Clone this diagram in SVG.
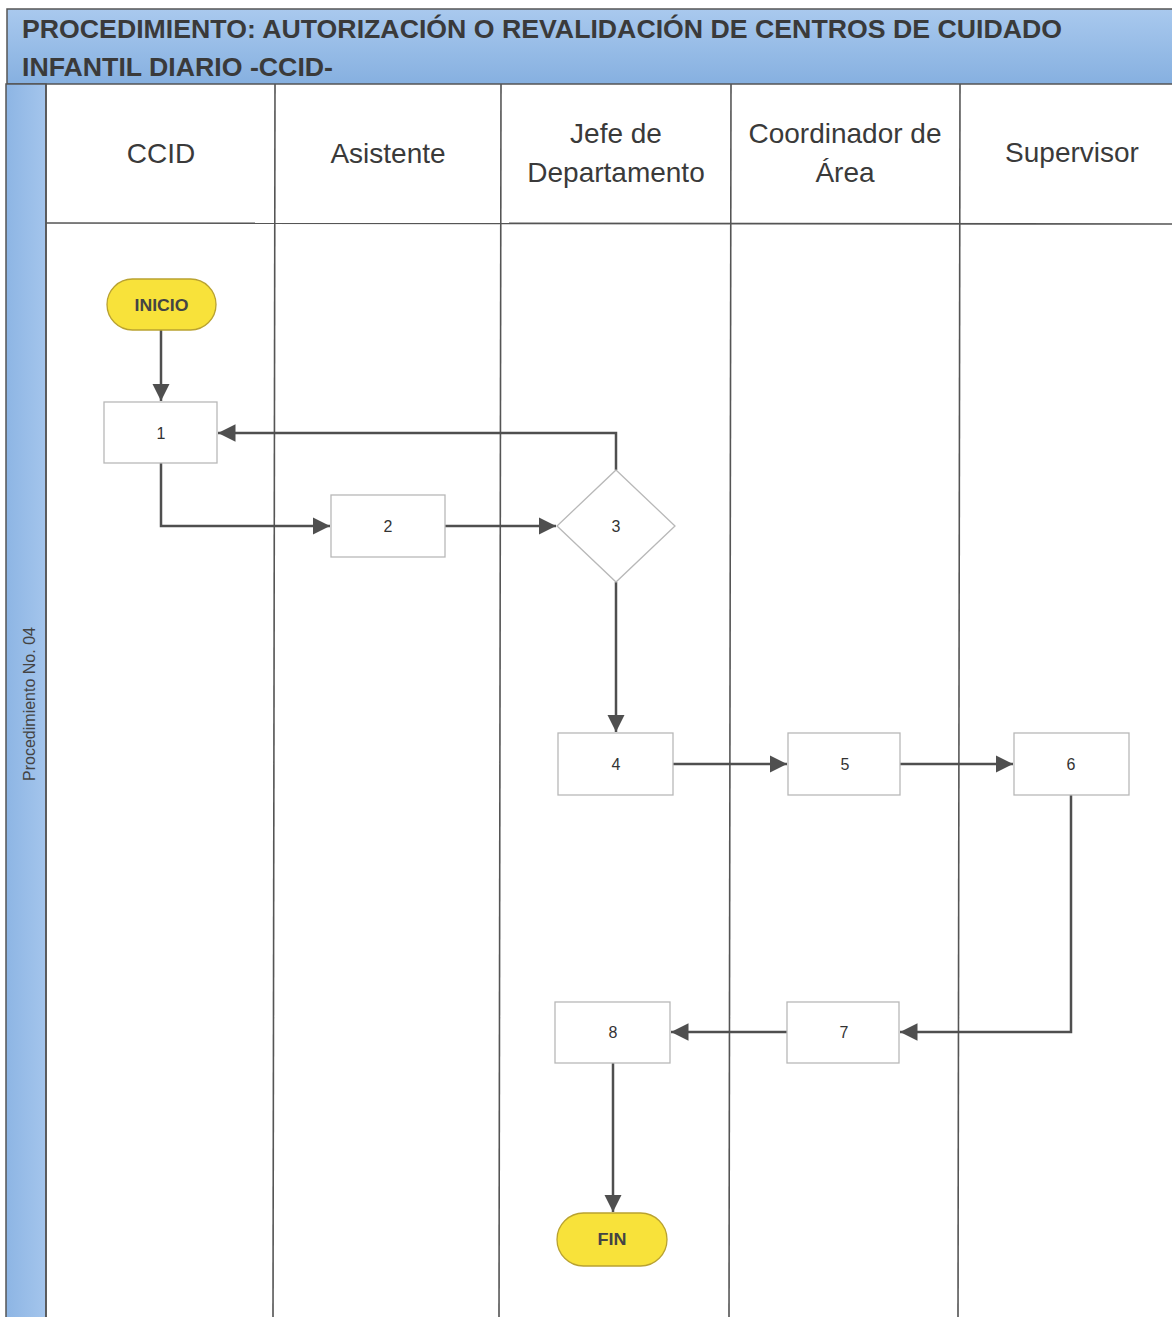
<svg xmlns="http://www.w3.org/2000/svg" width="1172" height="1317" viewBox="0 0 1172 1317">
<defs>
<linearGradient id="band" x1="0" y1="0" x2="0" y2="1">
<stop offset="0" stop-color="#A9C9EE"/>
<stop offset="1" stop-color="#86B0E0"/>
</linearGradient>
<linearGradient id="strip" x1="0" y1="0" x2="1" y2="0">
<stop offset="0" stop-color="#8DB5E4"/>
<stop offset="1" stop-color="#A4C5EC"/>
</linearGradient>
<marker id="arr" viewBox="0 0 10 10" refX="10" refY="5" markerWidth="7" markerHeight="7" markerUnits="strokeWidth" orient="auto">
<path d="M0,0 L10,5 L0,10 z" fill="#4F4F4F"/>
</marker>
<style>
.lane{stroke:#555;stroke-width:1.6;fill:none}
.hdr{font-family:"Liberation Sans",Arial,sans-serif;font-size:28px;fill:#3a3a3a;text-anchor:middle}
.box{fill:#fff;stroke:#b8b8b8;stroke-width:1.3}
.num{font-family:"Liberation Sans",Arial,sans-serif;font-size:16px;fill:#333;text-anchor:middle;dominant-baseline:central}
.term{fill:#F8E23A;stroke:#B9A230;stroke-width:1.3}
.tt{font-family:"Liberation Sans",Arial,sans-serif;font-size:17px;font-weight:bold;fill:#444;text-anchor:middle;dominant-baseline:central}
.con{stroke:#4F4F4F;stroke-width:2.5;fill:none;marker-end:url(#arr)}
.title{font-family:"Liberation Sans",Arial,sans-serif;font-size:26px;font-weight:bold;fill:#3a3a3a}
</style>
</defs>
<rect width="1172" height="1317" fill="#fff"/>
<g id="frame">
<rect x="7" y="9" width="1175" height="75" fill="url(#band)" stroke="#555" stroke-width="1.5"/>
<text class="title" x="22" y="38" textLength="1040" lengthAdjust="spacingAndGlyphs">PROCEDIMIENTO: AUTORIZACIÓN O REVALIDACIÓN DE CENTROS DE CUIDADO</text>
<text class="title" x="22" y="76" textLength="311" lengthAdjust="spacingAndGlyphs">INFANTIL DIARIO -CCID-</text>
<rect x="6" y="84" width="40" height="1240" fill="url(#strip)" stroke="#555" stroke-width="1.5"/>
<text x="0" y="0" transform="translate(35,704) rotate(-90)" font-family="Liberation Sans,Arial,sans-serif" font-size="16" fill="#444" text-anchor="middle">Procedimiento No. 04</text>
<line class="lane" x1="46" y1="84" x2="46" y2="1317"/>
<line class="lane" x1="275" y1="84" x2="273" y2="1317"/>
<line class="lane" x1="501" y1="84" x2="499" y2="1317"/>
<line class="lane" x1="731" y1="84" x2="729" y2="1317"/>
<line class="lane" x1="960" y1="84" x2="958" y2="1317"/>
<line class="lane" x1="46" y1="223" x2="1172" y2="224"/>
</g>
<g id="headers">
<text class="hdr" x="161" y="163">CCID</text>
<text class="hdr" x="388" y="163">Asistente</text>
<text class="hdr" x="616" y="143" font-size="29">Jefe de</text>
<text class="hdr" x="616" y="182" font-size="29">Departamento</text>
<text class="hdr" x="845" y="143" font-size="29">Coordinador de</text>
<text class="hdr" x="845" y="182" font-size="29">Área</text>
<text class="hdr" x="1072" y="162">Supervisor</text>
</g>
<g id="connectors">
<path class="con" d="M161,330 V401"/>
<path class="con" d="M616,470 V433 H218"/>
<path class="con" d="M161,463 V526 H330"/>
<path class="con" d="M445,526 H556"/>
<path class="con" d="M616,582 V732"/>
<path class="con" d="M673,764 H787"/>
<path class="con" d="M900,764 H1013"/>
<path class="con" d="M1071,795 V1032 H900"/>
<path class="con" d="M787,1032 H671"/>
<path class="con" d="M613,1063 V1212"/>
</g>
<g id="inicio">
<rect class="term" x="107" y="279" width="109" height="51" rx="25.5"/>
<text class="tt" x="161.5" y="305" textLength="54" lengthAdjust="spacingAndGlyphs">INICIO</text>
</g>
<g id="n1"><rect class="box" x="104" y="402" width="113" height="61"/><text class="num" x="161" y="433">1</text></g>
<g id="n2"><rect class="box" x="331" y="495" width="114" height="62"/><text class="num" x="388" y="526">2</text></g>
<g id="n3"><path class="box" d="M616,470 L675,526 L616,582 L557,526 Z"/><text class="num" x="616" y="526">3</text></g>
<g id="n4"><rect class="box" x="558" y="733" width="115" height="62"/><text class="num" x="616" y="764">4</text></g>
<g id="n5"><rect class="box" x="788" y="733" width="112" height="62"/><text class="num" x="845" y="764">5</text></g>
<g id="n6"><rect class="box" x="1014" y="733" width="115" height="62"/><text class="num" x="1071" y="764">6</text></g>
<g id="n7"><rect class="box" x="787" y="1002" width="112" height="61"/><text class="num" x="844" y="1032">7</text></g>
<g id="n8"><rect class="box" x="555" y="1002" width="115" height="61"/><text class="num" x="613" y="1032">8</text></g>
<g id="fin">
<rect class="term" x="557" y="1213" width="110" height="53" rx="26.5"/>
<text class="tt" x="612" y="1239" textLength="29" lengthAdjust="spacingAndGlyphs">FIN</text>
</g>
</svg>
